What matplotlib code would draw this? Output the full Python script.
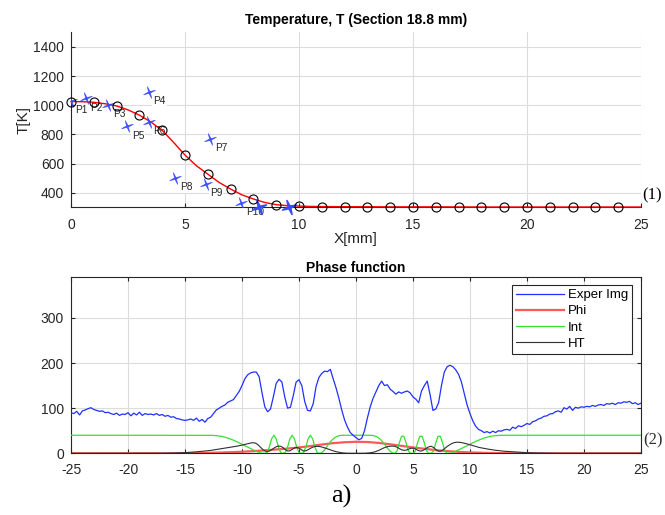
import numpy as np
import matplotlib
matplotlib.use("Agg")
import matplotlib.pyplot as plt
from matplotlib.path import Path

plt.rcParams['font.family'] = ['Liberation Sans', 'DejaVu Sans']
plt.rcParams['axes.unicode_minus'] = False

# ---- top panel: temperature profile ----
t_curve_x = [0, 0.5, 1, 1.5, 2, 2.5, 3, 3.5, 4, 4.5, 5, 5.5, 6, 6.5, 7, 7.5,
             8, 8.5, 9, 9.5, 10, 10.5, 11, 12, 14, 16, 18, 20, 22, 24, 25]
t_curve = [1025, 1024, 1020, 1010, 995, 968, 932, 885, 827, 745, 658, 585, 527,
           470, 425, 385, 357, 333, 318, 311, 308, 306, 305, 304, 303, 303, 302,
           302, 302, 302, 302]

circ_x = list(range(25))
circ_T = [1025, 1022, 995, 932, 827, 658, 527, 425, 357, 316, 308, 305, 304,
          303, 303, 302, 302, 302, 302, 302, 302, 302, 302, 302, 302]

p_names = ['P1', 'P2', 'P3', 'P4', 'P5', 'P6', 'P7', 'P8', 'P9', 'P10']
p_x = [0.0, 0.64, 1.64, 3.4, 2.47, 3.41, 6.1, 4.57, 5.9, 7.47]
p_T = [1030, 1046, 1002, 1093, 854, 882, 768, 503, 458, 327]
extra_x = [8.23, 9.55]
extra_T = [305, 300]

# ---- bottom panel: phase function ----
exper_img = [
    90, 88, 93, 85, 94, 96, 99, 101,
    97, 95, 93, 94, 90, 91, 88, 86,
    89, 84, 87, 86, 90, 83, 89, 85,
    91, 84, 88, 86, 87, 85, 88, 84,
    86, 82, 84, 80, 81, 77, 76, 74,
    73, 74, 76, 73, 78, 71, 75, 69,
    77, 80, 88, 96, 100, 104, 107, 113,
    116, 119, 128, 137, 150, 165, 174, 178,
    180, 180, 170, 135, 103, 92, 98, 125,
    155, 164, 158, 125, 100, 102, 128, 158,
    163, 150, 115, 95, 94, 110, 148, 168,
    177, 182, 181, 186, 165, 145, 122, 96,
    74, 58, 46, 40, 35, 30, 33, 50,
    78, 103, 122, 136, 150, 160, 150, 152,
    142, 137, 131, 136, 133, 136, 138, 134,
    125, 120, 112, 138, 150, 160, 130, 95,
    98, 112, 150, 180, 192, 195, 192, 185,
    175, 158, 132, 107, 88, 72, 60, 53,
    50, 46, 48, 45, 49, 46, 50, 49,
    52, 53, 51, 58, 55, 61, 59, 62,
    66, 64, 70, 72, 76, 78, 82, 83,
    87, 88, 92, 94, 91, 101, 98, 104,
    95, 102, 100, 103, 102, 104, 103, 106,
    104, 107, 108, 106, 110, 109, 111, 108,
    112, 111, 114, 113, 115, 110, 112, 108,
    111]
x_img = np.linspace(-25, 25, len(exper_img))

phi = [0, 0, 0, 0, 0, 0, 0, 0, 0,
       0.1, 0.3, 0.6, 1, 1.6, 2.4, 3.5, 4.8, 6.5, 8.5, 10.5, 13, 16, 19.5,
       22.5, 24.5, 25.5, 25, 23, 20, 16.5, 13, 10, 7, 4.8, 3.2, 2, 1.2, 0.6,
       0.3, 0.1,
       0, 0, 0, 0, 0, 0, 0, 0, 0, 0, 0]
x_phi = np.linspace(-25, 25, len(phi))

x_fine = np.round(np.arange(-13, 13.001, 0.2), 1)
int_mid = [
    40, 40, 39.8, 39.5, 39, 38.3, 37.5, 36.3, 35, 33.3,
    31.5, 29.5, 27.5, 25, 22.5, 20, 17.5, 15, 12.5, 10,
    7.5, 5, 2.8, 1, 0.2, 0, 1.5, 14, 32, 40,
    32, 14, 1.5, 0, 1.5, 14, 32, 40, 32, 14,
    1.5, 0, 1.5, 14, 32, 40, 32, 14, 1.5, 0,
    1.5, 6, 13, 20.5, 27, 32, 35.8, 38.2, 39.4, 40,
    40, 40, 40, 40, 40,
    40,
    40, 40, 40, 40, 40, 40, 39.6, 38.8, 37, 34,
    29.5, 23.5, 17, 10, 4.5, 1, 0, 5, 23, 37.7,
    37.7, 23, 5, 0, 0, 5, 23, 37.7, 37.7, 23,
    5, 0, 0, 5, 23, 37.7, 37.7, 23, 5, 0,
    0, 0.5, 2.8, 5, 7.5, 10, 12.5, 15, 17.5, 20,
    22.5, 25, 27.5, 29.5, 31.5, 33.3, 35, 36.3, 37.5, 38.3,
    39, 39.5, 39.8, 40, 40]
x_int = np.concatenate([[-25], x_fine, [25]])
int_g = [40] + int_mid + [40]

ht_mid = [
    5.5, 6.2, 7, 7.8, 8.5, 9.2, 10, 10.8, 11.6, 12.4,
    13.2, 14, 15, 16, 17, 18.2, 19.4, 20.6, 21.8, 23,
    23.5, 22.5, 19, 14, 9, 5.5, 4, 5, 8, 11.5,
    14.5, 16, 15.5, 12.5, 8, 5.2, 5.5, 8.5, 12, 13,
    11.5, 8, 5.2, 5.5, 8, 11, 13.5, 15, 15.5, 15,
    14, 12.5, 10.8, 9, 7.2, 5.5, 4, 2.8, 1.8, 1,
    0.5, 0.2, 0.1, 0, 0,
    0,
    0, 0, 0.1, 0.2, 0.5, 1, 1.8, 2.8, 4.5, 6.5,
    9, 11.5, 13.5, 15, 15.8, 16, 15.5, 13.5, 10.5, 8,
    6.5, 7, 9, 11, 11.5, 10, 7, 5, 5.5, 8,
    11.5, 14.5, 15.5, 13, 8.5, 5, 4.5, 7, 11, 15,
    18.5, 21.5, 23.5, 24.5, 24.5, 24, 23, 21.8, 20.5, 19,
    17.5, 16, 14.5, 13, 12, 11, 10, 9.2, 8.4, 7.6,
    6.9, 6.3, 5.7, 5.1, 4.6]
ht_left_x = [-25, -18, -17, -16, -15, -14]
ht_left = [0, 0, 0.2, 0.6, 1.5, 3.2]
ht_right_x = [14, 15, 16, 17, 18, 25]
ht_right = [3, 1.4, 0.6, 0.2, 0, 0]
x_ht = np.concatenate([ht_left_x, x_fine, ht_right_x])
ht = ht_left + ht_mid + ht_right

grid_col = '#dcdcdc'
axis_col = '#262626'

# thin four-pointed star marker
ang = np.deg2rad(np.arange(8) * 45 + 20)
rad = np.where(np.arange(8) % 2 == 0, 1.0, 0.18)
star_v = np.column_stack([rad * np.cos(ang), rad * np.sin(ang)])
star = Path(np.vstack([star_v, star_v[:1]]), closed=True)

fig = plt.figure(figsize=(6.65, 5.15), dpi=100)

# top axes
ax1 = fig.add_axes([0.1068, 0.5975, 0.857, 0.3398])
ax1.plot(t_curve_x, t_curve, color='red', lw=1.0, zorder=3, clip_on=False)
ax1.plot(circ_x, circ_T, 'o', mfc='none', mec='black', ms=6.5, mew=0.8,
         zorder=4, clip_on=False)
ax1.plot(p_x, p_T, linestyle='none', marker=star, color='#3a4bff',
         ms=8.5, mew=0.4, zorder=3.5)
ax1.plot(extra_x, extra_T, linestyle='none', marker=star,
         color='#3a4bff', ms=10, mew=1.2, zorder=3.5, clip_on=False)
for name, px, pt in zip(p_names, p_x, p_T):
    ax1.annotate(name, (px, pt), xytext=(3.3, -6.5), textcoords='offset points',
                 ha='left', va='center', fontsize=7.3, color='#262626', zorder=2,
                 bbox=dict(boxstyle='square,pad=0.1', fc='white', ec='none'))
ax1.set_xlim(0, 25)
ax1.set_ylim(300, 1500)
ax1.set_xticks(range(0, 26, 5))
ax1.set_yticks(range(400, 1401, 200))
ax1.grid(True, color=grid_col, lw=0.8, zorder=0)
ax1.set_axisbelow(True)
for s in ['top', 'right']:
    ax1.spines[s].set_visible(False)
for s in ['left', 'bottom']:
    ax1.spines[s].set_color(axis_col)
    ax1.spines[s].set_linewidth(0.8)
ax1.tick_params(direction='in', length=3, labelsize=10, colors=axis_col, pad=5)
ax1.tick_params(axis='x', pad=8)
ax1.set_title('Temperature, T (Section 18.8 mm)', fontsize=10, fontweight='bold',
              pad=6)
ax1.set_xlabel('X[mm]', fontsize=11, color=axis_col, labelpad=0)
ax1.set_ylabel('T[K]', fontsize=11, color=axis_col, labelpad=2)

# bottom axes
ax2 = fig.add_axes([0.1068, 0.1198, 0.857, 0.3418])
ax2.plot(x_img, exper_img, color='#2030ff', lw=0.9, label='Exper Img', zorder=3)
ax2.plot(x_phi, phi, color='#ff5a5a', lw=1.6, label='Phi', zorder=2.5)
ax2.plot(x_int, int_g, color='#33e033', lw=0.9, label='Int', zorder=2.6)
ax2.plot(x_ht, ht, color='#303030', lw=0.8, label='HT', zorder=2.7)
ax2.set_xlim(-25, 25)
ax2.set_ylim(0, 390)
ax2.set_xticks(range(-25, 26, 5))
ax2.set_yticks([0, 100, 200, 300])
ax2.grid(True, color=grid_col, lw=0.8, zorder=0)
ax2.set_axisbelow(True)
for s in ax2.spines.values():
    s.set_color(axis_col)
    s.set_linewidth(0.8)
ax2.tick_params(direction='in', length=3, labelsize=10, colors=axis_col, pad=5,
                top=True, right=True)
ax2.tick_params(axis='x', pad=7)
ax2.set_title('Phase function', fontsize=10, fontweight='bold', pad=4)
leg = ax2.legend(loc='upper right', bbox_to_anchor=(0.984, 0.956),
                 borderaxespad=0, fontsize=9.5, handlelength=3.6,
                 handletextpad=0.3, labelspacing=0.3, borderpad=0.3,
                 fancybox=False, framealpha=1)
leg.get_frame().set_edgecolor('#262626')
leg.get_frame().set_linewidth(0.8)

fig.text(0.9654, 0.6214, '(1)', family='Liberation Serif', fontsize=12,
         ha='left', va='center')
fig.text(0.9669, 0.1456, '(2)', family='Liberation Serif', fontsize=12,
         ha='left', va='center', color='#303030')
fig.text(0.513, 0.036, 'a)', family='Liberation Serif', fontsize=19,
         ha='center', va='center')

fig.savefig('out.png', dpi=100)
